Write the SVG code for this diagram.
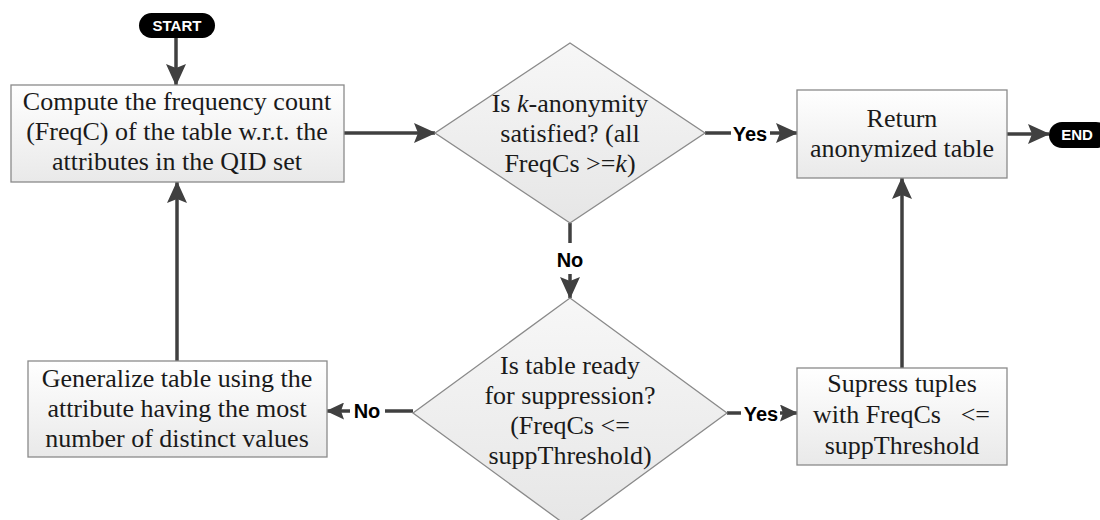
<svg xmlns="http://www.w3.org/2000/svg" width="1100" height="520" viewBox="0 0 1100 520">
<defs>
<linearGradient id="gBox" x1="0" y1="0" x2="0" y2="1">
<stop offset="0" stop-color="#ffffff"/>
<stop offset="1" stop-color="#e9e9e9"/>
</linearGradient>
<linearGradient id="gDia" x1="0" y1="0" x2="0" y2="1">
<stop offset="0" stop-color="#f7f7f7"/>
<stop offset="1" stop-color="#e6e6e6"/>
</linearGradient>
<marker id="ah" markerUnits="userSpaceOnUse" markerWidth="22" markerHeight="20" refX="21" refY="10" orient="auto">
<path d="M0,0 L22,10 L0,20 L4,10 z" fill="#404040"/>
</marker>
<marker id="ahs" markerUnits="userSpaceOnUse" markerWidth="18" markerHeight="17" refX="17" refY="8.5" orient="auto">
<path d="M0,0 L18,8.5 L0,17 L3,8.5 z" fill="#404040"/>
</marker>
<style>
.box{fill:url(#gBox);stroke:#8a8a8a;stroke-width:1.3}
.dia{fill:url(#gDia);stroke:#8a8a8a;stroke-width:1.3}
.t{font-family:"Liberation Serif","Times New Roman",serif;font-size:26px;fill:#1a1a1a;text-anchor:middle}
.pill{fill:#000}
.pt{font-family:"Liberation Sans",Arial,sans-serif;font-weight:bold;font-size:15px;fill:#fff;text-anchor:middle}
.lbl{font-family:"Liberation Sans",Arial,sans-serif;font-weight:bold;font-size:20px;fill:#000;text-anchor:middle}
.c{fill:none;stroke:#404040;stroke-width:3.5}
</style>
</defs>

<g id="connectors">
<path class="c" d="M176,38 L176,85" marker-end="url(#ah)"/>
<path class="c" d="M344,133 L435,133" marker-end="url(#ah)"/>
<path class="c" d="M705,133 L731,133"/>
<path class="c" d="M770,133 L797,133" marker-end="url(#ah)"/>
<path class="c" d="M1007,134 L1049,134" marker-end="url(#ah)"/>
<path class="c" d="M570,223 L570,243"/>
<path class="c" d="M570,274 L570,298" marker-end="url(#ah)"/>
<path class="c" d="M727,413 L741,413"/>
<path class="c" d="M780,413 L797,413" marker-end="url(#ahs)"/>
<path class="c" d="M413,411 L385,411"/>
<path class="c" d="M350,411 L327,411" marker-end="url(#ahs)"/>
<path class="c" d="M902,368 L902,178" marker-end="url(#ah)"/>
<path class="c" d="M177,361 L177,182" marker-end="url(#ah)"/>
<text class="lbl" x="750" y="141">Yes</text>
<text class="lbl" x="570" y="267">No</text>
<text class="lbl" x="761" y="421">Yes</text>
<text class="lbl" x="367" y="418">No</text>
</g>

<g id="start">
<rect class="pill" x="139" y="13" width="76" height="25" rx="12.5"/>
<text class="pt" x="177" y="31">START</text>
</g>

<g id="compute">
<rect class="box" x="11" y="85" width="333" height="97"/>
<text class="t" x="177" y="110">Compute the frequency count</text>
<text class="t" x="177" y="140">(FreqC) of the table w.r.t. the</text>
<text class="t" x="177" y="170">attributes in the QID set</text>
</g>

<g id="kanon">
<polygon class="dia" points="570,43 705,133 570,223 435,133"/>
<text class="t" x="570" y="112">Is <tspan font-style="italic">k</tspan>-anonymity</text>
<text class="t" x="570" y="142">satisfied? (all</text>
<text class="t" x="570" y="172">FreqCs &gt;=<tspan font-style="italic">k</tspan>)</text>
</g>

<g id="return">
<rect class="box" x="797" y="90" width="210" height="88"/>
<text class="t" x="902" y="127">Return</text>
<text class="t" x="902" y="157">anonymized table</text>
</g>

<g id="end">
<rect class="pill" x="1049" y="122" width="60" height="26" rx="13"/>
<text class="pt" x="1077" y="140">END</text>
</g>

<g id="ready">
<polygon class="dia" points="570,298 727,413 570,528 413,413"/>
<text class="t" x="570" y="374">Is table ready</text>
<text class="t" x="570" y="404">for suppression?</text>
<text class="t" x="570" y="434">(FreqCs &lt;=</text>
<text class="t" x="570" y="464">suppThreshold)</text>
</g>

<g id="generalize">
<rect class="box" x="28" y="361" width="299" height="96"/>
<text class="t" x="177" y="387">Generalize table using the</text>
<text class="t" x="177" y="417">attribute having the most</text>
<text class="t" x="177" y="447">number of distinct values</text>
</g>

<g id="suppress">
<rect class="box" x="797" y="368" width="210" height="97"/>
<text class="t" x="902" y="392">Supress tuples</text>
<text class="t"><tspan x="813" y="423" text-anchor="start">with FreqCs</tspan><tspan x="990" y="423" text-anchor="end">&lt;=</tspan></text>
<text class="t" x="902" y="454">suppThreshold</text>
</g>
</svg>
